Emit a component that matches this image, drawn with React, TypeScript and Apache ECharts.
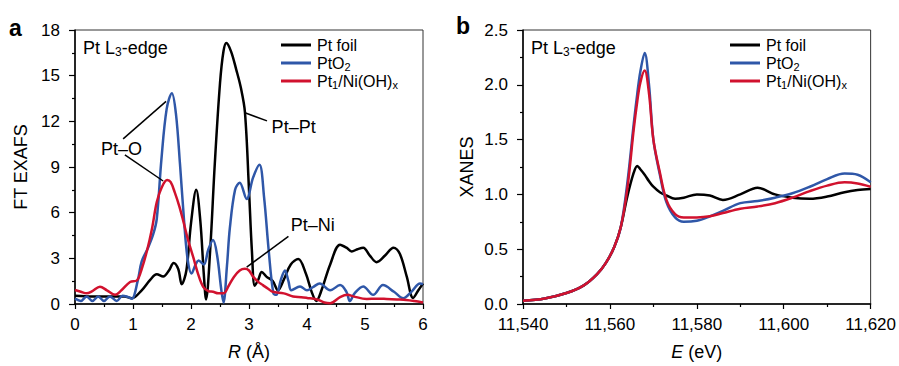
import React, { useEffect, useRef } from "react";
import * as echarts from "echarts";

const FONT = "'Liberation Sans', Arial, Helvetica, sans-serif";
const BLACK = "#000000";
const BLUE = "#2f57a8";
const RED = "#d1122e";

// ---------- Panel a: FT EXAFS ----------
const rFoil = [0, 0.3, 0.6, 0.85, 0.98, 1.15, 1.3, 1.41, 1.52, 1.62, 1.7, 1.78, 1.84, 1.92, 2.0, 2.09, 2.16, 2.22, 2.26, 2.33, 2.41, 2.5, 2.56, 2.61, 2.69, 2.78, 2.86, 2.93, 3.0, 3.05, 3.1, 3.16, 3.22, 3.3, 3.41, 3.5, 3.6, 3.72, 3.85, 3.98, 4.08, 4.16, 4.25, 4.4, 4.57, 4.68, 4.77, 4.87, 4.97, 5.08, 5.2, 5.35, 5.49, 5.6, 5.72, 5.83, 5.92, 6.0];
const ftFoil = [0.55, 0.5, 0.5, 0.5, 0.38, 0.9, 1.6, 1.95, 1.8, 2.2, 2.7, 2.3, 1.3, 2.2, 5.3, 7.5, 5.5, 2.0, 0.3, 3.5, 9.2, 14.5, 16.6, 17.15, 16.6, 15.4, 14.2, 12.6, 7.5, 3.5, 1.2, 1.6, 2.1, 1.8, 1.5, 0.9, 1.6, 2.6, 2.95, 2.0, 0.8, 0.2, 0.9, 2.6, 3.9, 3.7, 3.45, 3.6, 3.7, 3.2, 2.75, 3.2, 3.7, 3.3, 1.8, 0.4, 0.9, 1.35];

const rPtO2 = [0, 0.1, 0.2, 0.3, 0.4, 0.5, 0.6, 0.72, 0.82, 0.92, 0.98, 1.08, 1.15, 1.26, 1.35, 1.41, 1.49, 1.58, 1.67, 1.74, 1.81, 1.88, 1.94, 2.01, 2.08, 2.13, 2.22, 2.3, 2.38, 2.45, 2.52, 2.56, 2.62, 2.67, 2.76, 2.84, 2.96, 3.07, 3.18, 3.26, 3.34, 3.42, 3.47, 3.55, 3.62, 3.68, 3.73, 3.88, 4.0, 4.1, 4.22, 4.4, 4.57, 4.68, 4.74, 4.82, 4.97, 5.14, 5.31, 5.5, 5.66, 5.8, 5.95, 6.0];
const ftPtO2 = [0.35, 0.2, 0.5, 0.2, 0.5, 0.2, 0.5, 0.2, 0.55, 0.45, 0.35, 1.5, 2.8, 3.7, 4.6, 5.6, 9.5, 12.8, 13.85, 12.5, 9.2, 5.5, 3.0, 2.0, 2.6, 2.85, 2.6, 3.6, 4.2, 3.2, 1.0, 0.1, 2.5, 5.0, 7.5, 7.97, 6.9, 8.3, 9.15, 7.0, 3.5, 0.7, 0.6, 1.6, 2.2, 1.5, 0.9, 1.15, 0.9, 1.1, 1.35, 0.9, 1.24, 0.8, 0.19, 0.7, 1.15, 0.6, 1.24, 0.8, 0.38, 0.8, 1.35, 1.3];

const rSac = [0, 0.1, 0.2, 0.3, 0.43, 0.55, 0.69, 0.8, 0.95, 1.07, 1.15, 1.24, 1.33, 1.41, 1.5, 1.59, 1.65, 1.72, 1.8, 1.87, 1.95, 2.04, 2.12, 2.21, 2.3, 2.38, 2.47, 2.56, 2.65, 2.74, 2.84, 2.93, 3.0, 3.07, 3.16, 3.24, 3.33, 3.41, 3.6, 3.76, 3.9, 4.0, 4.17, 4.3, 4.4, 4.57, 4.7, 4.8, 5.03, 5.2, 5.37, 5.55, 5.71, 5.85, 6.0];
const ftSac = [0.92, 0.8, 0.7, 0.85, 1.13, 0.9, 0.6, 0.9, 1.45, 1.56, 2.3, 3.48, 5.0, 6.7, 7.7, 8.14, 8.0, 7.33, 6.4, 5.4, 4.2, 3.06, 2.0, 1.13, 0.85, 0.8, 0.7, 0.7, 1.2, 1.78, 2.2, 2.31, 2.2, 1.8, 1.45, 1.24, 1.0, 0.8, 0.7, 0.49, 0.45, 0.4, 0.3, 0.1, 0.05, 0.45, 0.6, 0.5, 0.33, 0.35, 0.33, 0.3, 0.27, 0.2, 0.1];

const rTicks = { min: 0, max: 6, interval: 1 };
const ftTicks = { min: 0, max: 18, interval: 3 };

// ---------- Panel b: XANES ----------
const energy = [11540, 11545, 11550, 11554, 11557, 11559, 11561, 11562.5, 11564, 11565.5, 11566.3, 11567, 11568, 11569, 11570, 11571.5, 11573, 11575, 11577, 11580, 11583, 11586, 11590, 11594, 11598, 11602, 11606, 11610, 11614, 11617, 11620];
const xanFoil = [0.03, 0.05, 0.1, 0.17, 0.27, 0.37, 0.52, 0.7, 0.98, 1.2, 1.26, 1.23, 1.18, 1.12, 1.07, 1.02, 0.99, 0.96, 0.97, 1.0, 0.99, 0.95, 1.0, 1.06, 1.0, 0.97, 0.96, 0.98, 1.02, 1.04, 1.05];
const xanPtO2 = [0.03, 0.05, 0.1, 0.17, 0.27, 0.37, 0.52, 0.7, 1.1, 1.65, 1.92, 2.12, 2.29, 2.0, 1.5, 1.18, 0.93, 0.79, 0.75, 0.76, 0.8, 0.85, 0.92, 0.94, 0.97, 1.01, 1.07, 1.14, 1.19, 1.18, 1.11];
const xanSac = [0.03, 0.05, 0.1, 0.17, 0.27, 0.37, 0.52, 0.7, 1.05, 1.6, 1.85, 2.02, 2.13, 1.92, 1.5, 1.2, 0.95, 0.82, 0.79, 0.79, 0.8, 0.83, 0.87, 0.89, 0.92, 0.97, 1.03, 1.08, 1.11, 1.1, 1.07];

const eTicks = { min: 11540, max: 11620, interval: 20 };
const xanTicks = { min: 0, max: 2.5, interval: 0.5 };

const seriesNames = ["Pt foil", "PtO2", "Pt1/Ni(OH)x"];
const legendLabels: Record<string, string> = {
  "Pt foil": "{n|Pt foil}",
  PtO2: "{n|PtO}{s|2}",
  "Pt1/Ni(OH)x": "{n|Pt}{s|1}{n|/Ni(OH)}{s|x}",
};

// annotations (data coordinates of panel a)
const exafsNotes = [
  { text: "Pt–O", at: [0.8, 10.2], align: "center" },
  { text: "Pt–Pt", at: [3.39, 11.6], align: "left" },
  { text: "Pt–Ni", at: [3.72, 5.19], align: "left" },
];
const exafsLeaders = [
  [[0.83, 10.85], [1.57, 13.31]],
  [[0.86, 9.79], [1.52, 8.08]],
  [[2.93, 12.56], [3.31, 12.03]],
  [[3.68, 4.44], [2.96, 2.42]],
];

const legRich = {
  n: { fontSize: 16, fontFamily: FONT, color: "#000", lineHeight: 18 },
  s: { fontSize: 11, fontFamily: FONT, color: "#000", lineHeight: 5, verticalAlign: "bottom" },
};
const bigRich = {
  n: { fontSize: 18, fontFamily: FONT, color: "#000", lineHeight: 20 },
  s: { fontSize: 12, fontFamily: FONT, color: "#000", lineHeight: 5, verticalAlign: "bottom" },
  i: { fontSize: 18, fontFamily: FONT, color: "#000", lineHeight: 20, fontStyle: "italic" },
};

function pairs(xs: number[], ys: number[]) {
  return xs.map((x, i) => [x, ys[i]]);
}

function xAxisCfg(gridIndex: number, t: any, name: string, fmt: (v: number) => string) {
  return {
    type: "value",
    gridIndex,
    min: t.min,
    max: t.max,
    interval: t.interval,
    name,
    nameLocation: "middle",
    nameGap: 38,
    nameMoveOverlap: false,
    nameTextStyle: { rich: bigRich },
    axisLine: { show: true, onZero: false, lineStyle: { color: "#000", width: 1.5 } },
    axisTick: { show: true, inside: false, length: 5, lineStyle: { color: "#000", width: 1.2 } },
    minorTick: { show: true, splitNumber: 2, length: 3, lineStyle: { color: "#000", width: 1.2 } },
    axisLabel: { color: "#000", fontSize: 17, fontFamily: FONT, margin: 12, formatter: fmt },
    splitLine: { show: false },
  };
}
function yAxisCfg(gridIndex: number, t: any, name: string, gap: number, fmt: (v: number) => string) {
  return {
    type: "value",
    gridIndex,
    min: t.min,
    max: t.max,
    interval: t.interval,
    name,
    nameLocation: "middle",
    nameGap: gap,
    nameMoveOverlap: false,
    nameTextStyle: { color: "#000", fontSize: 18, fontFamily: FONT },
    axisLine: { show: true, onZero: false, lineStyle: { color: "#000", width: 1.5 } },
    axisTick: { show: true, inside: false, length: 6, lineStyle: { color: "#000", width: 1.2 } },
    minorTick: { show: true, splitNumber: 2, length: 3, lineStyle: { color: "#000", width: 1.2 } },
    axisLabel: { color: "#000", fontSize: 17, fontFamily: FONT, margin: 15, formatter: fmt },
    splitLine: { show: false },
  };
}

function lineSeries(name: string, color: string, data: number[][], idx: number) {
  return {
    type: "line",
    name,
    xAxisIndex: idx,
    yAxisIndex: idx,
    data,
    showSymbol: false,
    symbol: "none",
    smooth: 0.35,
    clip: true,
    lineStyle: { color, width: 2.5 },
    itemStyle: { color },
    z: 3,
  };
}

function legendCfg(left: number) {
  return {
    data: seriesNames,
    orient: "vertical",
    left,
    top: 36,
    padding: 0,
    itemGap: 0,
    itemWidth: 30,
    itemHeight: 3,
    icon: "rect",
    selectedMode: false,
    formatter: (n: string) => legendLabels[n],
    textStyle: { color: "#000", fontSize: 16, fontFamily: FONT, lineHeight: 18, padding: [0, 0, 0, 1], rich: legRich },
  };
}

export default function App() {
  const ref = useRef<HTMLDivElement>(null);
  useEffect(() => {
    if (!ref.current) return;
    const chart = echarts.init(ref.current, undefined, { renderer: "svg" });
    const fmtComma = (v: number) => v.toLocaleString("en-US");
    chart.setOption({
      animation: false,
      textStyle: { fontFamily: FONT },
      grid: [
        { left: 75, top: 30, width: 348, height: 280, show: true, borderColor: "#333", borderWidth: 1 },
        { left: 523, top: 30, width: 349, height: 280, show: true, borderColor: "#333", borderWidth: 1 },
      ],
      xAxis: [
        xAxisCfg(0, rTicks, "{i|R}{n| (Å)}", (v) => String(v)),
        xAxisCfg(1, eTicks, "{i|E}{n| (eV)}", fmtComma),
      ],
      yAxis: [
        yAxisCfg(0, ftTicks, "FT EXAFS", 45, (v) => String(v)),
        yAxisCfg(1, xanTicks, "XANES", 47, (v) => v.toFixed(1)),
      ],
      legend: [legendCfg(281), legendCfg(730)],
      series: [
        lineSeries("Pt foil", BLACK, pairs(rFoil, ftFoil), 0),
        lineSeries("PtO2", BLUE, pairs(rPtO2, ftPtO2), 0),
        lineSeries("Pt1/Ni(OH)x", RED, pairs(rSac, ftSac), 0),
        lineSeries("Pt foil", BLACK, pairs(energy, xanFoil), 1),
        lineSeries("PtO2", BLUE, pairs(energy, xanPtO2), 1),
        lineSeries("Pt1/Ni(OH)x", RED, pairs(energy, xanSac), 1),
      ],
    });

    const px = (p: number[]) => chart.convertToPixel({ gridIndex: 0 }, p) as number[];
    const graphics: any[] = [];
    exafsLeaders.forEach((seg) => {
      const a = px(seg[0]);
      const b = px(seg[1]);
      graphics.push({
        type: "line",
        shape: { x1: a[0], y1: a[1], x2: b[0], y2: b[1] },
        style: { stroke: "#000", lineWidth: 1.5 },
        z: 10,
      });
    });
    exafsNotes.forEach((n) => {
      const p = px(n.at);
      graphics.push({
        type: "text",
        x: p[0],
        y: p[1],
        style: { text: n.text, fill: "#000", font: `18px ${FONT}`, align: n.align, verticalAlign: "middle" },
        z: 10,
      });
    });
    const edgeText = "{n|Pt L}{s|3}{n|-edge}";
    [
      [83, 38],
      [531, 38],
    ].forEach(([x, y]) => {
      graphics.push({
        type: "text",
        x,
        y,
        style: { text: edgeText, rich: bigRich, fill: "#000", font: `18px ${FONT}` },
        z: 10,
      });
    });
    graphics.push({ type: "text", x: 9, y: 16, style: { text: "a", fill: "#000", font: `bold 23px ${FONT}` } });
    graphics.push({ type: "text", x: 456, y: 14, style: { text: "b", fill: "#000", font: `bold 23px ${FONT}` } });
    chart.setOption({ graphic: graphics });

    return () => chart.dispose();
  }, []);
  return <div ref={ref} style={{ position: "absolute", left: 0, top: 0, width: 899, height: 366 }} />;
}
